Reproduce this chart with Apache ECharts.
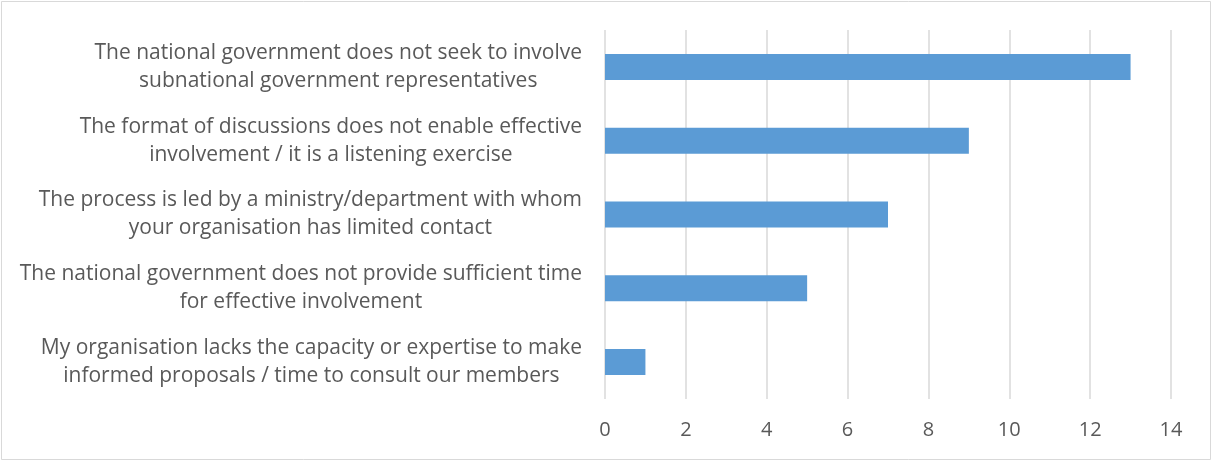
<!DOCTYPE html>
<html>
<head>
<meta charset="utf-8">
<script src="https://cdn.jsdelivr.net/npm/echarts@6/dist/echarts.min.js"></script>
<style>
  html, body { margin: 0; padding: 0; background: #fff; }
  #chart { width: 1212px; height: 461px; }
</style>
</head>
<body>
<div id="chart"></div>
<script>
// top to bottom, as in the picture
const categories = [
  'The national government does not seek to involve\nsubnational government representatives',
  'The format of discussions does not enable effective\ninvolvement / it is a listening exercise',
  'The process is led by a ministry/department with whom\nyour organisation has limited contact',
  'The national government does not provide sufficient time\nfor effective involvement',
  'My organisation lacks the capacity or expertise to make\ninformed proposals / time to consult our members'
];
const counts = [13, 9, 7, 5, 1];
const xTicks = [0, 2, 4, 6, 8, 10, 12, 14];

const FONT = 'Open Sans';
const chart = echarts.init(document.getElementById('chart'), null, { renderer: 'canvas' });

chart.setOption({
  animation: false,
  backgroundColor: '#fff',
  textStyle: { fontFamily: FONT },
  graphic: [{
    type: 'rect',
    shape: { x: 1.5, y: 1.5, width: 1209, height: 458 },
    style: { fill: 'none', stroke: '#d9d9d9', lineWidth: 1 },
    silent: true
  }],
  grid: { left: 605, right: 41, top: 30, bottom: 62 },
  xAxis: {
    type: 'value',
    min: xTicks[0],
    max: xTicks[xTicks.length - 1],
    interval: xTicks[1] - xTicks[0],
    axisLine: { show: false },
    axisTick: { show: false },
    splitLine: { lineStyle: { color: '#d9d9d9', width: 1.5 } },
    axisLabel: { color: '#595959', fontSize: 20, fontFamily: FONT, margin: 21 }
  },
  yAxis: {
    type: 'category',
    inverse: true,
    data: categories,
    axisLine: { show: false },
    axisTick: { show: false },
    axisLabel: {
      margin: 23,
      align: 'right',
      formatter: v => v.split('\n').map(s => '{c|' + s + '}').join('\n'),
      rich: {
        c: { align: 'center', color: '#595959', fontSize: 21, lineHeight: 28, fontFamily: FONT }
      }
    }
  },
  series: [{
    type: 'bar',
    data: counts,
    barWidth: 26,
    itemStyle: { color: '#5b9bd5' }
  }]
});
</script>
</body>
</html>
